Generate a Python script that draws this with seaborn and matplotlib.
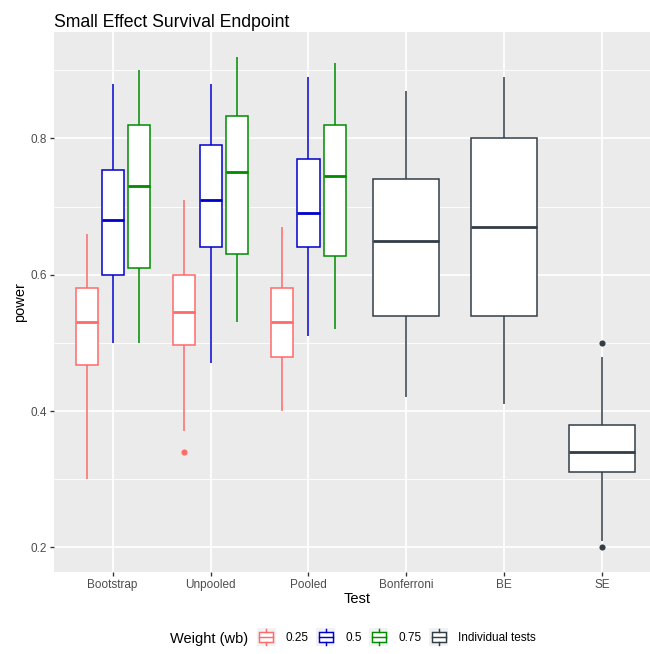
import numpy as np
import pandas as pd
import matplotlib
matplotlib.use("Agg")
import matplotlib.pyplot as plt
import seaborn as sns
from matplotlib.patches import Rectangle, Patch
from matplotlib.lines import Line2D
from matplotlib.legend_handler import HandlerBase

# ---------------- data ----------------
categories = ["Bootstrap", "Unpooled", "Pooled", "Bonferroni", "BE", "SE"]
weighted_tests = ["Bootstrap", "Unpooled", "Pooled"]
individual_tests = ["Bonferroni", "BE", "SE"]
weights = ["0.25", "0.5", "0.75"]

# five-number summaries [whisker low, q1, median, q3, whisker high]
w025_stats = [[0.300, 0.468, 0.530, 0.580, 0.660],   # Bootstrap
              [0.371, 0.497, 0.545, 0.600, 0.710],   # Unpooled
              [0.400, 0.480, 0.530, 0.580, 0.670]]   # Pooled
w050_stats = [[0.500, 0.600, 0.680, 0.753, 0.880],
              [0.470, 0.640, 0.710, 0.790, 0.880],
              [0.510, 0.640, 0.690, 0.770, 0.890]]
w075_stats = [[0.500, 0.610, 0.730, 0.820, 0.900],
              [0.530, 0.630, 0.750, 0.833, 0.920],
              [0.520, 0.628, 0.745, 0.820, 0.910]]
individual_stats = [[0.420, 0.540, 0.650, 0.740, 0.870],   # Bonferroni
                    [0.410, 0.540, 0.670, 0.800, 0.890],   # BE
                    [0.210, 0.310, 0.340, 0.380, 0.480]]   # SE

weighted_outlier_test = ["Unpooled"]
weighted_outlier_weight = ["0.25"]
weighted_outlier_value = [0.340]
individual_outlier_test = ["SE", "SE"]
individual_outlier_value = [0.500, 0.200]

weight_colors = ["#FF6A6A", "#0000CD", "#008B00"]
individual_color = "#333D47"
legend_labels = ["0.25", "0.5", "0.75", "Individual tests"]

# ---------------- build long tables ----------------
rows = []
for w, st in zip(weights, [w025_stats, w050_stats, w075_stats]):
    for t, five in zip(weighted_tests, st):
        for v in five:
            rows.append({"Test": t, "wb": w, "power": v})
df_w = pd.DataFrame(rows)

rows = []
for t, five in zip(individual_tests, individual_stats):
    for v in five:
        rows.append({"Test": t, "power": v})
df_i = pd.DataFrame(rows)

df_wo = pd.DataFrame({"Test": weighted_outlier_test, "wb": weighted_outlier_weight,
                      "power": weighted_outlier_value})
df_io = pd.DataFrame({"Test": individual_outlier_test, "power": individual_outlier_value})

# ---------------- style ----------------
plt.rcParams["font.family"] = ["Liberation Sans", "DejaVu Sans"]
plt.rcParams["axes.unicode_minus"] = False

DPI = 96
W, H = 650, 654
fig = plt.figure(figsize=(W / DPI, H / DPI), dpi=DPI)
fig.patch.set_facecolor("white")
left, right, top, bottom = 53.9, 661.0, 32.0, 572.0
ax = fig.add_axes([left / W, 1 - bottom / H, (right - left) / W, (bottom - top) / H])
ax.set_facecolor("#EBEBEB")

LW = 1.15
MLW = 2.1
for w, c in zip(weights, weight_colors):
    sub = df_w[df_w["wb"] == w]
    sns.boxplot(data=sub, x="Test", y="power", hue="wb", hue_order=weights,
                order=categories, palette=dict(zip(weights, weight_colors)),
                dodge=True, width=0.8, gap=0.156, whis=(0, 100), fill=True,
                linecolor=c, linewidth=LW, legend=False, ax=ax,
                boxprops=dict(facecolor="white"),
                medianprops=dict(linewidth=MLW),
                capprops=dict(visible=False), showfliers=False)

sns.boxplot(data=df_i, x="Test", y="power", order=categories, width=0.675,
            whis=(0, 100), fill=True, color="white", linecolor=individual_color,
            linewidth=LW, ax=ax, boxprops=dict(facecolor="white"),
            medianprops=dict(linewidth=MLW),
            capprops=dict(visible=False), showfliers=False)

sns.stripplot(data=df_wo, x="Test", y="power", hue="wb", hue_order=weights,
              order=categories, palette=dict(zip(weights, weight_colors)),
              dodge=True, jitter=False, size=4.6, linewidth=0, legend=False,
              ax=ax, zorder=4)
sns.stripplot(data=df_io, x="Test", y="power", order=categories, color=individual_color,
              jitter=False, size=4.6, linewidth=0, legend=False, ax=ax, zorder=4)

ax.set_xlim(-0.6, len(categories) - 0.4)
ax.set_ylim(0.164, 0.956)
ax.set_yticks([0.2, 0.4, 0.6, 0.8])
ax.set_yticks([0.3, 0.5, 0.7, 0.9], minor=True)
ax.set_yticklabels(["0.2", "0.4", "0.6", "0.8"])
ax.grid(True, which="major", color="white", linewidth=1.3)
ax.grid(True, which="minor", axis="y", color="white", linewidth=0.65)
ax.set_axisbelow(True)
for s in ax.spines.values():
    s.set_visible(False)
ax.tick_params(axis="both", which="major", length=2.75, width=1.0, color="#333333",
               labelcolor="#4D4D4D", labelsize=8.8, pad=2.2)
ax.tick_params(axis="both", which="minor", length=0)
ax.set_xlabel("Test", fontsize=11, color="black", labelpad=1.0)
ax.set_ylabel("power", fontsize=11, color="black", labelpad=2.5)
ax.set_title("Small Effect Survival Endpoint", loc="left", fontsize=13.2,
             color="black", pad=4.0)


# ---------------- legend ----------------
class BoxKeyHandler(HandlerBase):
    def create_artists(self, legend, orig_handle, xdescent, ydescent, width, height,
                       fontsize, trans):
        c = orig_handle.get_edgecolor()
        x0, y0 = -xdescent, -ydescent
        bg = Rectangle((x0, y0), width, height, facecolor="#F2F2F2", edgecolor="none",
                       transform=trans)
        box = Rectangle((x0 + 0.125 * width, y0 + 0.25 * height), 0.75 * width,
                        0.5 * height, facecolor="white", edgecolor=c, lw=1.1,
                        transform=trans)
        med = Line2D([x0 + 0.125 * width, x0 + 0.875 * width], [y0 + 0.5 * height] * 2,
                     color=c, lw=1.1, transform=trans)
        wl = Line2D([x0 + 0.5 * width] * 2, [y0 + 0.1 * height, y0 + 0.25 * height],
                    color=c, lw=1.1, transform=trans)
        wh = Line2D([x0 + 0.5 * width] * 2, [y0 + 0.75 * height, y0 + 0.9 * height],
                    color=c, lw=1.1, transform=trans)
        return [bg, box, med, wl, wh]


handles = [Patch(edgecolor=c, facecolor="white") for c in weight_colors + [individual_color]]
key_w = 14.25 / 8.8
key_h = 2.114
fig.legend(handles, legend_labels, handler_map={Patch: BoxKeyHandler()}, ncol=4,
           loc="center left", bbox_to_anchor=(256.5 / W, 1 - 637 / H), frameon=False,
           fontsize=8.8, handlelength=key_w, handleheight=key_h, handletextpad=0.85,
           columnspacing=0.66, borderpad=0, borderaxespad=0, labelcolor="black")
fig.text(170 / W, 1 - 639 / H, "Weight (wb)", fontsize=11, ha="left", va="center",
         color="black")

fig.savefig("out.png", dpi=DPI)
